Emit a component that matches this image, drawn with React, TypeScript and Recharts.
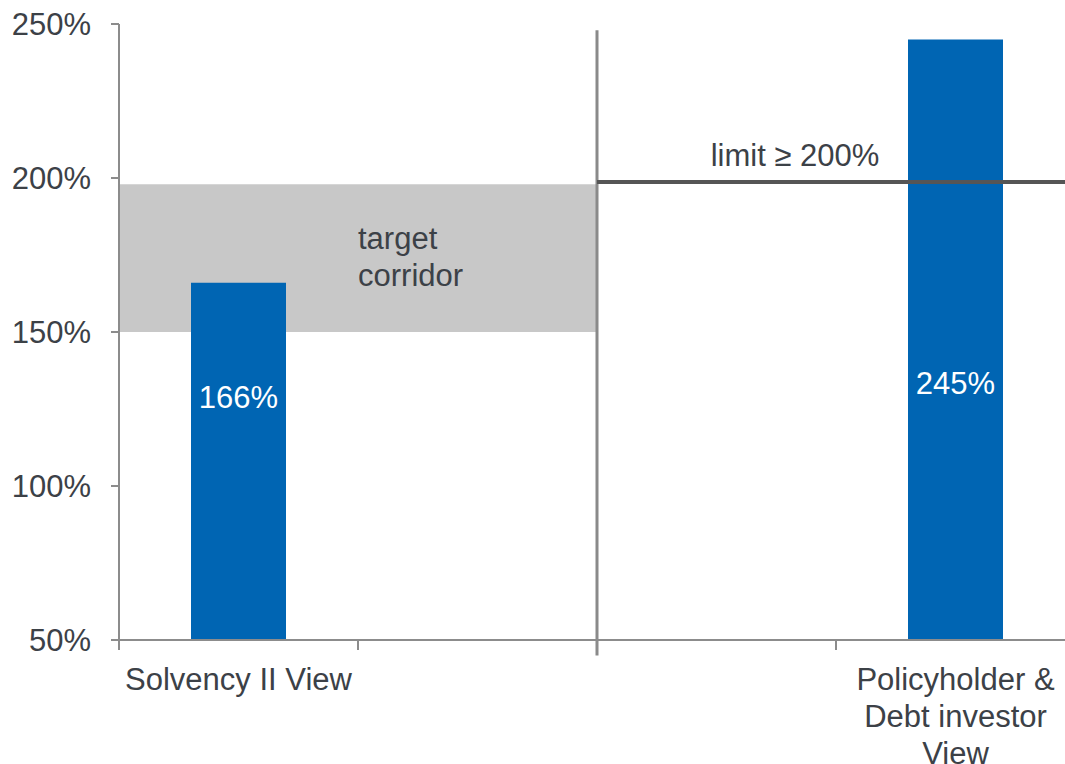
import React from "react";
import {
  BarChart,
  Bar,
  XAxis,
  YAxis,
  ReferenceArea,
  ReferenceLine,
  ReferenceDot,
  Label,
} from "recharts";

// category slots on the x axis (two empty slots between the two views)
const slotKeys = ["c0", "c1", "c2", "c3"];
const slotNames = ["Solvency II View", "", "", "Policyholder &\nDebt investor\nView"];
const ratios = [166, null, null, 245];
// level (in %) where the value label of each bar sits
const ratioLabelLevels = [129, null, null, 133.4];
const yTicks = [50, 100, 150, 200, 250];
const corridor = [150, 198];
const limitLevel = 198.7;
const dividerSpan = [45, 248];

const TEXT = "#3c4147";
const AXIS = "#8c8c8c";
const BLUE = "#0065b3";
const FONT = "'Liberation Sans', Arial, sans-serif";

const data = slotKeys.map((key, i) => ({ key, name: slotNames[i], value: ratios[i] }));

function CategoryTick(props: any) {
  const { x, y, payload } = props;
  const i = slotKeys.indexOf(payload.value);
  const half = payload.offset || 119.5;
  const lines = (slotNames[i] || "").split("\n").filter((l) => l.length > 0);
  return (
    <g>
      <line x1={x - half} x2={x - half} y1={y - 10} y2={y} stroke={AXIS} strokeWidth={2} />
      {lines.map((l, k) => (
        <text
          key={k}
          x={x}
          y={y + 40 + k * 37}
          textAnchor="middle"
          fill={TEXT}
          fontSize={31}
          fontFamily={FONT}
        >
          {l}
        </text>
      ))}
    </g>
  );
}

function CorridorLabel(props: any) {
  const vb = props.viewBox || { x: 0, y: 0, width: 0, height: 0 };
  const x = vb.x + vb.width / 2;
  return (
    <g>
      <text x={x} y={vb.y + 65} fill={TEXT} fontSize={31} fontFamily={FONT}>
        target
      </text>
      <text x={x} y={vb.y + 102} fill={TEXT} fontSize={31} fontFamily={FONT}>
        corridor
      </text>
    </g>
  );
}

function LimitLabel(props: any) {
  const vb = props.viewBox || { x: 0, y: 0 };
  return (
    <text
      x={vb.x + 198}
      y={vb.y - 16}
      textAnchor="middle"
      fill={TEXT}
      fontSize={31}
      fontFamily={FONT}
    >
      limit ≥ 200%
    </text>
  );
}

export default function App() {
  return (
    <div
      style={{
        position: "absolute",
        left: 0,
        top: 0,
        width: 1065,
        height: 764,
        overflow: "hidden",
        background: "#fff",
        fontFamily: FONT,
      }}
    >
      <BarChart
        width={1075}
        height={764}
        data={data}
        margin={{ top: 24, right: 0, bottom: 0, left: 0 }}
      >
        <ReferenceArea
          x1="c0"
          x2="c1"
          y1={corridor[0]}
          y2={corridor[1]}
          fill="#c8c8c8"
          fillOpacity={1}
          stroke="none"
        >
          <Label content={CorridorLabel} />
        </ReferenceArea>
        <XAxis
          dataKey="key"
          interval={0}
          height={124}
          tickSize={10}
          tickMargin={0}
          tickLine={false}
          axisLine={{ stroke: AXIS, strokeWidth: 2 }}
          tick={<CategoryTick />}
        />
        <YAxis
          domain={[50, 250]}
          ticks={yTicks}
          width={119}
          tickSize={8}
          tickMargin={20}
          tickFormatter={(v) => `${v}%`}
          axisLine={{ stroke: AXIS, strokeWidth: 2 }}
          tickLine={{ stroke: AXIS, strokeWidth: 2 }}
          tick={{ fill: TEXT, fontSize: 31, fontFamily: FONT }}
        />
        <Bar dataKey="value" fill={BLUE} barSize={95} isAnimationActive={false} />
        <ReferenceLine
          segment={[
            { x: "c2", y: dividerSpan[0] },
            { x: "c2", y: dividerSpan[1] },
          ]}
          position="start"
          ifOverflow="visible"
          stroke="#8a8a8a"
          strokeWidth={3}
        />
        <ReferenceLine
          segment={[
            { x: "c2", y: limitLevel },
            { x: "c3", y: limitLevel },
          ]}
          position="start"
          ifOverflow="visible"
          stroke="#555555"
          strokeWidth={4}
        >
          <Label content={LimitLabel} />
        </ReferenceLine>
        <ReferenceLine
          segment={[
            { x: "c2", y: limitLevel },
            { x: "c3", y: limitLevel },
          ]}
          position="end"
          ifOverflow="visible"
          stroke="#555555"
          strokeWidth={4}
        />
        {slotKeys.map((k, i) =>
          ratios[i] != null ? (
            <ReferenceDot
              key={k}
              x={k}
              y={ratioLabelLevels[i] as number}
              r={0}
              fill="none"
              stroke="none"
            >
              <Label
                value={`${ratios[i]}%`}
                position="center"
                fill="#ffffff"
                fontSize={31}
                fontFamily={FONT}
              />
            </ReferenceDot>
          ) : null
        )}
      </BarChart>
    </div>
  );
}
